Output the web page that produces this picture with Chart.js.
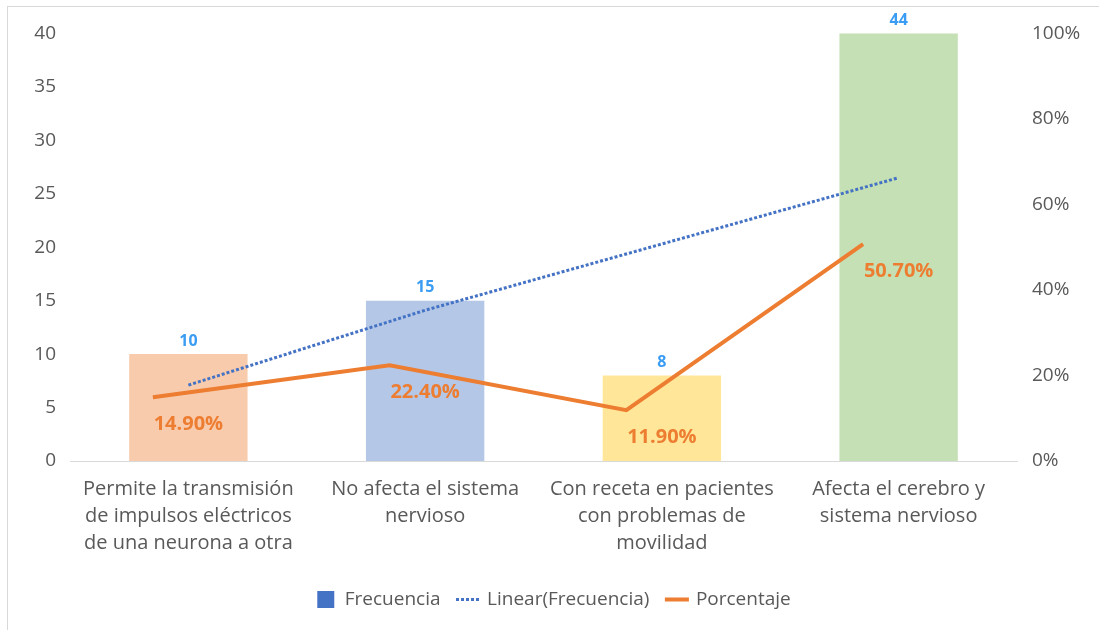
<!DOCTYPE html>
<html>
<head>
<meta charset="utf-8">
<script src="https://cdn.jsdelivr.net/npm/chart.js@4.4.1/dist/chart.umd.min.js"></script>
<style>
  html, body { margin: 0; padding: 0; background: #fff; }
  #frame { position: absolute; left: 7px; top: 6px; width: 1100px; height: 630px;
           border-left: 1px solid #d9d9d9; border-top: 1px solid #d9d9d9; }
  #chart { position: absolute; left: 8px; top: 7px; }
</style>
</head>
<body>
<div id="frame"></div>
<canvas id="chart" width="1091" height="623"></canvas>
<script>
const categories = [
  ["Permite la transmisión", "de impulsos eléctricos", "de una neurona a otra"],
  ["No afecta el sistema", "nervioso"],
  ["Con receta en pacientes", "con problemas de", "movilidad"],
  ["Afecta el cerebro y", "sistema nervioso"]
];
const frecuencia = [10, 15, 8, 44];
const porcentaje = [14.9, 22.4, 11.9, 50.7];
// trend line as drawn over each category
const tendencia = [7.1, 14.1, 20.3, 26.5];
const barColors = ["#f8cbad", "#b4c7e7", "#ffe699", "#c5e0b4"];

const FONT = "'Open Sans', sans-serif";

// value labels: counts above the bars, percentages under the line
const valueLabels = {
  id: "valueLabels",
  afterDatasetDraw(chart, args) {
    if (args.index !== 0) return;
    const ctx = chart.ctx;
    const area = chart.chartArea;
    const bars = chart.getDatasetMeta(0).data;
    const line = chart.getDatasetMeta(2).data;
    ctx.save();
    ctx.textAlign = "center";
    ctx.textBaseline = "middle";
    ctx.font = "bold 16px " + FONT;
    ctx.fillStyle = "#3a9cf2";
    bars.forEach((bar, i) => {
      ctx.fillText(String(frecuencia[i]), bar.x, Math.max(bar.y, area.top) - 13);
    });
    ctx.font = "bold 20px " + FONT;
    ctx.fillStyle = "#ed7d31";
    line.forEach((pt, i) => {
      ctx.fillText(porcentaje[i].toFixed(2) + "%", bars[i].x, pt.y + 27);
    });
    ctx.restore();
  }
};

new Chart(document.getElementById("chart"), {
  type: "bar",
  data: {
    labels: categories,
    datasets: [
      {
        type: "bar",
        label: "Frecuencia",
        data: frecuencia,
        backgroundColor: barColors,
        grouped: false,
        barPercentage: 0.5,
        categoryPercentage: 1,
        xAxisID: "x",
        yAxisID: "y",
        order: 3
      },
      {
        type: "line",
        label: "Linear(Frecuencia)",
        data: tendencia,
        borderColor: "#4472c4",
        borderWidth: 3,
        borderDash: [3, 2],
        pointRadius: 0,
        fill: false,
        xAxisID: "x",
        yAxisID: "y",
        order: 2
      },
      {
        type: "line",
        label: "Porcentaje",
        data: porcentaje.map((v, i) => ({ x: i, y: v })),
        borderColor: "#ed7d31",
        borderWidth: 4,
        pointRadius: 0,
        tension: 0,
        fill: false,
        xAxisID: "xl",
        yAxisID: "y1",
        order: 1
      }
    ]
  },
  options: {
    responsive: false,
    animation: false,
    layout: { padding: { top: 21, bottom: 11, left: 0, right: 0 } },
    plugins: {
      tooltip: { enabled: false },
      legend: {
        position: "bottom",
        labels: {
          usePointStyle: true,
          boxHeight: 17,
          padding: 18,
          color: "#595959",
          font: { family: FONT, size: 19 },
          generateLabels: () => [
            { text: "Frecuencia", fillStyle: "#4472c4", strokeStyle: "#4472c4", lineWidth: 0, pointStyle: "rect", fontColor: "#595959" },
            { text: "Linear(Frecuencia)", fillStyle: "#4472c4", strokeStyle: "#4472c4", lineWidth: 3, lineDash: [3, 2], pointStyle: "line", fontColor: "#595959" },
            { text: "Porcentaje", fillStyle: "#ed7d31", strokeStyle: "#ed7d31", lineWidth: 4, pointStyle: "line", fontColor: "#595959" }
          ]
        }
      }
    },
    scales: {
      x: {
        type: "category",
        offset: true,
        grid: { display: false, drawTicks: false },
        border: { color: "#d9d9d9", width: 1 },
        ticks: {
          color: "#595959",
          font: { family: FONT, size: 20, lineHeight: 1.35 },
          maxRotation: 0,
          autoSkip: false,
          padding: 15
        }
      },
      xl: {
        type: "linear",
        display: false,
        offset: false,
        grid: { offset: false },
        min: -0.35,
        max: 3.65
      },
      y: {
        position: "left",
        min: 0,
        max: 40,
        grid: { display: false, drawTicks: false },
        border: { display: false },
        ticks: { stepSize: 5, color: "#595959", font: { family: FONT, size: 19 }, padding: 14 },
        afterFit: s => { s.width = 62; }
      },
      y1: {
        position: "right",
        min: 0,
        max: 100,
        grid: { display: false, drawTicks: false },
        border: { display: false },
        ticks: { stepSize: 20, color: "#595959", font: { family: FONT, size: 19 }, padding: 15,
                 callback: v => v + "%" },
        afterFit: s => { s.width = 82; }
      }
    }
  },
  plugins: [valueLabels]
});
</script>
</body>
</html>
